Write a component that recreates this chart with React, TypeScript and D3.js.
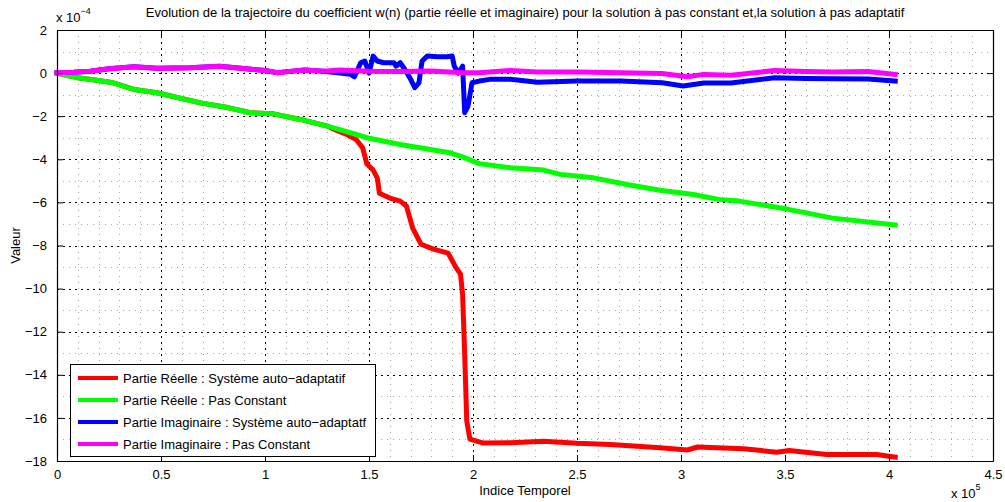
import React, { useEffect, useRef } from 'react';
import * as d3 from 'd3';

// x in units of 1e5 samples, y in units of 1e-4
const realAdaptive: [number, number][] = [
  [0, 0], [0.1, -0.22], [0.19, -0.33], [0.27, -0.45], [0.37, -0.76], [0.48, -0.91],
  [0.69, -1.38], [0.82, -1.6], [0.93, -1.84], [1.04, -1.89], [1.17, -2.15], [1.3, -2.46],
  [1.33, -2.6], [1.39, -2.83], [1.44, -3.1], [1.47, -3.48], [1.49, -4.22], [1.52, -4.5],
  [1.54, -4.87], [1.55, -5.57], [1.6, -5.8], [1.65, -5.94], [1.68, -6.17], [1.71, -7.19],
  [1.75, -7.94], [1.81, -8.17], [1.88, -8.35], [1.92, -9.05], [1.94, -9.33], [1.95, -10.26],
  [1.96, -13.04], [1.97, -16.15], [1.985, -16.98], [2.05, -17.17], [2.18, -17.15],
  [2.34, -17.08], [2.5, -17.18], [2.66, -17.23], [2.9, -17.39], [3.03, -17.49], [3.08, -17.35],
  [3.3, -17.43], [3.46, -17.59], [3.52, -17.51], [3.7, -17.7], [3.94, -17.7], [4.03, -17.82],
];

const realConstant: [number, number][] = [
  [0, 0], [0.1, -0.22], [0.19, -0.33], [0.27, -0.45], [0.37, -0.76], [0.48, -0.91],
  [0.69, -1.38], [0.82, -1.6], [0.93, -1.84], [1.04, -1.89], [1.17, -2.15], [1.3, -2.46],
  [1.44, -2.85], [1.49, -3.0], [1.65, -3.31], [1.89, -3.7], [1.94, -3.85], [2.03, -4.2],
  [2.18, -4.39], [2.34, -4.5], [2.42, -4.7], [2.58, -4.86], [2.74, -5.17], [2.9, -5.44],
  [3.06, -5.63], [3.18, -5.86], [3.28, -5.94], [3.51, -6.31], [3.73, -6.73], [4.03, -7.05],
];

const imagAdaptive: [number, number][] = [
  [0, 0.02], [0.08, 0.04], [0.16, 0.09], [0.25, 0.2], [0.37, 0.29], [0.48, 0.22],
  [0.64, 0.25], [0.78, 0.32], [0.91, 0.2], [1.0, 0.12], [1.06, 0.02], [1.12, 0.08],
  [1.19, 0.14], [1.28, 0.09], [1.36, 0.0], [1.41, -0.06], [1.43, -0.17], [1.46, 0.48],
  [1.48, 0.56], [1.5, 0.0], [1.52, 0.79], [1.54, 0.56], [1.57, 0.48], [1.62, 0.48],
  [1.63, 0.32], [1.65, 0.48], [1.67, 0.2], [1.7, -0.28], [1.72, -0.68], [1.74, -0.45],
  [1.755, 0.56], [1.78, 0.79], [1.83, 0.76], [1.875, 0.76], [1.9, 0.79], [1.91, 0.32],
  [1.93, 0.0], [1.95, 0.32], [1.96, -1.84], [1.976, -1.53], [1.995, -0.45], [2.03, -0.37],
  [2.08, -0.29], [2.18, -0.29], [2.31, -0.42], [2.5, -0.37], [2.71, -0.37], [2.91, -0.45],
  [3.01, -0.6], [3.11, -0.46], [3.24, -0.46], [3.45, -0.22], [3.6, -0.25], [3.73, -0.26],
  [3.9, -0.27], [4.03, -0.37],
];

const imagConstant: [number, number][] = [
  [0, 0.02], [0.08, 0.04], [0.16, 0.09], [0.25, 0.2], [0.37, 0.29], [0.48, 0.22],
  [0.64, 0.25], [0.78, 0.32], [0.91, 0.2], [1.0, 0.12], [1.06, 0.02], [1.12, 0.08],
  [1.19, 0.14], [1.28, 0.09], [1.36, 0.14], [1.5, 0.09], [1.65, 0.07], [1.8, 0.1],
  [1.95, 0.02], [2.03, 0.02], [2.18, 0.12], [2.31, 0.05], [2.5, 0.05], [2.71, 0.02],
  [2.91, -0.02], [3.03, -0.17], [3.11, -0.06], [3.24, -0.1], [3.45, 0.12], [3.6, 0.08],
  [3.73, 0.05], [3.9, 0.07], [4.03, -0.06],
];

const seriesNames = [
  'Partie Réelle : Système auto−adaptatif',
  'Partie Réelle : Pas Constant',
  'Partie Imaginaire : Système auto−adaptatf',
  'Partie Imaginaire : Pas Constant',
];
const seriesColors = ['#ff0000', '#00ff00', '#0000ff', '#ff00ff'];

const xTicks = [0, 0.5, 1, 1.5, 2, 2.5, 3, 3.5, 4, 4.5];
const yTicks = [2, 0, -2, -4, -6, -8, -10, -12, -14, -16, -18];

const title = 'Evolution de la trajectoire du coefficient w(n) (partie réelle et imaginaire) pour la solution à pas constant et,la solution à pas adaptatif';

export default function App() {
  const svgRef = useRef<SVGSVGElement>(null);

  useEffect(() => {
    if (!svgRef.current) return;
    const svg = d3.select(svgRef.current);
    svg.selectAll('*').remove();

    const left = 57, right = 993, top = 30, bottom = 461;
    const font = '"Liberation Sans", Arial, sans-serif';

    const x = d3.scaleLinear().domain([0, 4.5]).range([left, right]);
    const y = d3.scaleLinear().domain([-18, 2]).range([bottom, top]);
    const px = (v: number) => Math.round(v) + 0.5;

    svg.append('rect')
      .attr('width', 1005).attr('height', 502).attr('fill', '#fff');

    // minor grid
    const minorX = d3.range(1, 45).map(i => i / 10).filter(v => Math.abs(v * 2 - Math.round(v * 2)) > 1e-6);
    const minorY = d3.range(-17, 2, 2);
    const grid = svg.append('g').attr('shape-rendering', 'crispEdges');
    grid.selectAll('.mx').data(minorX).join('line')
      .attr('class', 'mx')
      .attr('x1', d => px(x(d))).attr('x2', d => px(x(d))).attr('y1', top).attr('y2', bottom)
      .attr('stroke', '#a8a8a8').attr('stroke-dasharray', '1,5');
    grid.selectAll('.my').data(minorY).join('line')
      .attr('class', 'my')
      .attr('y1', d => px(y(d))).attr('y2', d => px(y(d))).attr('x1', left).attr('x2', right)
      .attr('stroke', '#a8a8a8').attr('stroke-dasharray', '1,5');

    // major grid
    grid.selectAll('.gx').data(xTicks.slice(1, -1)).join('line')
      .attr('class', 'gx')
      .attr('x1', d => px(x(d))).attr('x2', d => px(x(d))).attr('y1', top).attr('y2', bottom)
      .attr('stroke', '#000').attr('stroke-width', 1.5).attr('stroke-dasharray', '2,4');
    grid.selectAll('.gy').data(yTicks.slice(1, -1)).join('line')
      .attr('class', 'gy')
      .attr('y1', d => px(y(d))).attr('y2', d => px(y(d))).attr('x1', left).attr('x2', right)
      .attr('stroke', '#000').attr('stroke-width', 1.5).attr('stroke-dasharray', '2,4');

    // series
    const line = d3.line<[number, number]>()
      .x(d => x(d[0]))
      .y(d => y(d[1]));
    const allSeries = [realAdaptive, realConstant, imagAdaptive, imagConstant];
    svg.append('g').selectAll('path').data(allSeries).join('path')
      .attr('d', d => line(d))
      .attr('fill', 'none')
      .attr('stroke', (_, i) => seriesColors[i])
      .attr('stroke-width', 5)
      .attr('stroke-linejoin', 'round')
      .attr('stroke-linecap', 'square');

    // axes box + ticks
    const xAxisB = svg.append('g').attr('transform', `translate(0,${bottom})`)
      .call(d3.axisBottom(x).tickValues(xTicks).tickSizeInner(-6).tickSizeOuter(0)
        .tickPadding(9).tickFormat(d3.format('')));
    const xAxisT = svg.append('g').attr('transform', `translate(0,${top})`)
      .call(d3.axisTop(x).tickValues(xTicks).tickSizeInner(-6).tickSizeOuter(0).tickFormat(() => ''));
    const yAxisL = svg.append('g').attr('transform', `translate(${left},0)`)
      .call(d3.axisLeft(y).tickValues(yTicks).tickSizeInner(-6).tickSizeOuter(0)
        .tickPadding(10).tickFormat(d3.format('')));
    const yAxisR = svg.append('g').attr('transform', `translate(${right},0)`)
      .call(d3.axisRight(y).tickValues(yTicks).tickSizeInner(-6).tickSizeOuter(0).tickFormat(() => ''));

    [xAxisB, xAxisT, yAxisL, yAxisR].forEach(a => {
      a.selectAll('.domain').attr('stroke', '#000').attr('stroke-width', 1.2);
      a.selectAll('.tick line').attr('stroke', '#000');
      a.selectAll('.tick text')
        .attr('fill', '#000')
        .style('font-family', font)
        .style('font-size', '13px');
    });

    // exponents
    const ex = svg.append('text').attr('x', 56).attr('y', 22)
      .style('font-family', font).style('font-size', '13px');
    ex.append('tspan').text('x 10');
    ex.append('tspan').attr('dy', -8).style('font-size', '9px').text('−4');

    const ex2 = svg.append('text').attr('x', 951).attr('y', 498)
      .style('font-family', font).style('font-size', '13px');
    ex2.append('tspan').text('x 10');
    ex2.append('tspan').attr('dy', -8).style('font-size', '9px').text('5');

    // title and labels
    svg.append('text').attr('x', (left + right) / 2).attr('y', 17)
      .attr('text-anchor', 'middle')
      .style('font-family', font).style('font-size', '13px')
      .text(title);

    svg.append('text').attr('x', (left + right) / 2).attr('y', 495)
      .attr('text-anchor', 'middle')
      .style('font-family', font).style('font-size', '13px')
      .text('Indice Temporel');

    svg.append('text')
      .attr('transform', `translate(20,${(top + bottom) / 2}) rotate(-90)`)
      .attr('text-anchor', 'middle')
      .style('font-family', font).style('font-size', '13px')
      .text('Valeur');

    // legend
    const legend = svg.append('g');
    legend.append('rect')
      .attr('x', 70.5).attr('y', 364.5).attr('width', 305).attr('height', 92)
      .attr('fill', '#fff').attr('stroke', '#000');
    seriesNames.forEach((name, i) => {
      const ly = 378 + i * 22;
      legend.append('line')
        .attr('x1', 78).attr('x2', 118).attr('y1', ly).attr('y2', ly)
        .attr('stroke', seriesColors[i]).attr('stroke-width', 4);
      legend.append('text')
        .attr('x', 123).attr('y', ly + 4.5)
        .style('font-family', font).style('font-size', '13px')
        .text(name);
    });
  }, []);

  return (
    <svg
      ref={svgRef}
      width={1005}
      height={502}
      style={{ position: 'absolute', left: 0, top: 0 }}
    />
  );
}
